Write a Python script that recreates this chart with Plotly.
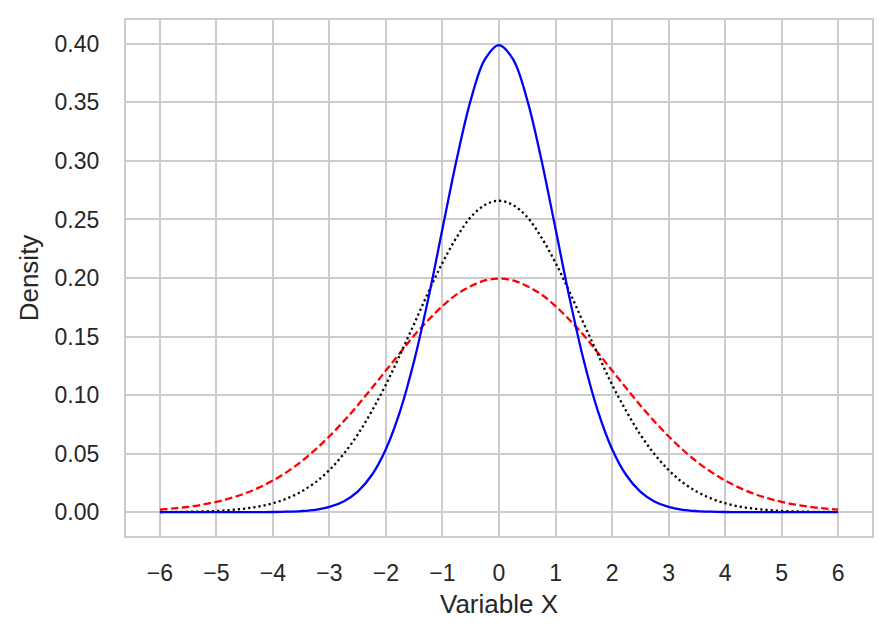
import plotly.graph_objects as go

# x positions (quarter-unit steps); curves are symmetric about 0
x_half = [-6, -5.75, -5.5, -5.25, -5, -4.75, -4.5, -4.25, -4, -3.75, -3.5, -3.25,
          -3, -2.75, -2.5, -2.25, -2, -1.75, -1.5, -1.25, -1, -0.75, -0.5, -0.25, 0]
x_vals = x_half + [-v for v in x_half[-2::-1]]

# values, from x=-6 up to the peak at x=0
blue_half = [0.0, 0.0, 0.0, 0.0, 0.0, 0.0, 0.0, 0.00005, 0.0001, 0.00035, 0.0009, 0.002,
             0.0044, 0.0091, 0.0175, 0.0317, 0.054, 0.0863, 0.1295, 0.1826, 0.242, 0.3011,
             0.352, 0.3867, 0.399]
black_half = [0.0001, 0.0002, 0.0003, 0.0006, 0.001, 0.0018, 0.003, 0.0048, 0.0076, 0.0117,
              0.0175, 0.0254, 0.036, 0.0496, 0.0663, 0.0864, 0.109, 0.1347, 0.161, 0.1879,
              0.213, 0.2347, 0.252, 0.2623, 0.266]
red_half = [0.0022, 0.0032, 0.0045, 0.0064, 0.0088, 0.0119, 0.0159, 0.0209, 0.027, 0.0344,
            0.0431, 0.0533, 0.0648, 0.0775, 0.0913, 0.106, 0.121, 0.1361, 0.151, 0.1641,
            0.176, 0.186, 0.193, 0.1979, 0.1995]

blue_vals = blue_half + blue_half[-2::-1]
black_vals = black_half + black_half[-2::-1]
red_vals = red_half + red_half[-2::-1]

x_ticks = list(range(-6, 7))
x_tick_text = [("\u2212" + str(abs(t))) if t < 0 else str(t) for t in x_ticks]
y_ticks = [0.0, 0.05, 0.10, 0.15, 0.20, 0.25, 0.30, 0.35, 0.40]
y_tick_text = ["%.2f" % v for v in y_ticks]

fig = go.Figure()
fig.add_trace(go.Scatter(x=x_vals, y=red_vals, mode="lines", line_shape="spline",
                         line=dict(color="red", width=2.3, dash="7.5px,3.5px")))
fig.add_trace(go.Scatter(x=x_vals, y=black_vals, mode="lines", line_shape="spline",
                         line=dict(color="black", width=2.3, dash="2.2px,3px")))
fig.add_trace(go.Scatter(x=x_vals, y=blue_vals, mode="lines", line_shape="spline",
                         line=dict(color="blue", width=2.3)))

font = "Liberation Sans, Arial, sans-serif"
fig.update_layout(
    width=889, height=638,
    margin=dict(l=118, r=25, t=10, b=110),
    paper_bgcolor="white", plot_bgcolor="white",
    showlegend=False,
    font=dict(family=font, size=23, color="#262626"),
    xaxis=dict(range=[-6.6, 6.6], tickvals=x_ticks, ticktext=x_tick_text,
               showgrid=True, gridcolor="#cccccc", gridwidth=2.2,
               zeroline=False, showline=True, linecolor="#cccccc", linewidth=2.2,
               mirror=True, ticks="outside", ticklen=15, tickcolor="white",
               title=dict(text="Variable X", font=dict(size=26), standoff=10),
               tickfont=dict(size=23)),
    yaxis=dict(range=[-0.0204, 0.4204], tickvals=y_ticks, ticktext=y_tick_text,
               showgrid=True, gridcolor="#cccccc", gridwidth=2.2,
               zeroline=False, showline=True, linecolor="#cccccc", linewidth=2.2,
               mirror=True, ticks="outside", ticklen=20, tickcolor="white",
               title=dict(text="Density", font=dict(size=26), standoff=8),
               tickfont=dict(size=23)),
)

fig.write_html("out.html")
